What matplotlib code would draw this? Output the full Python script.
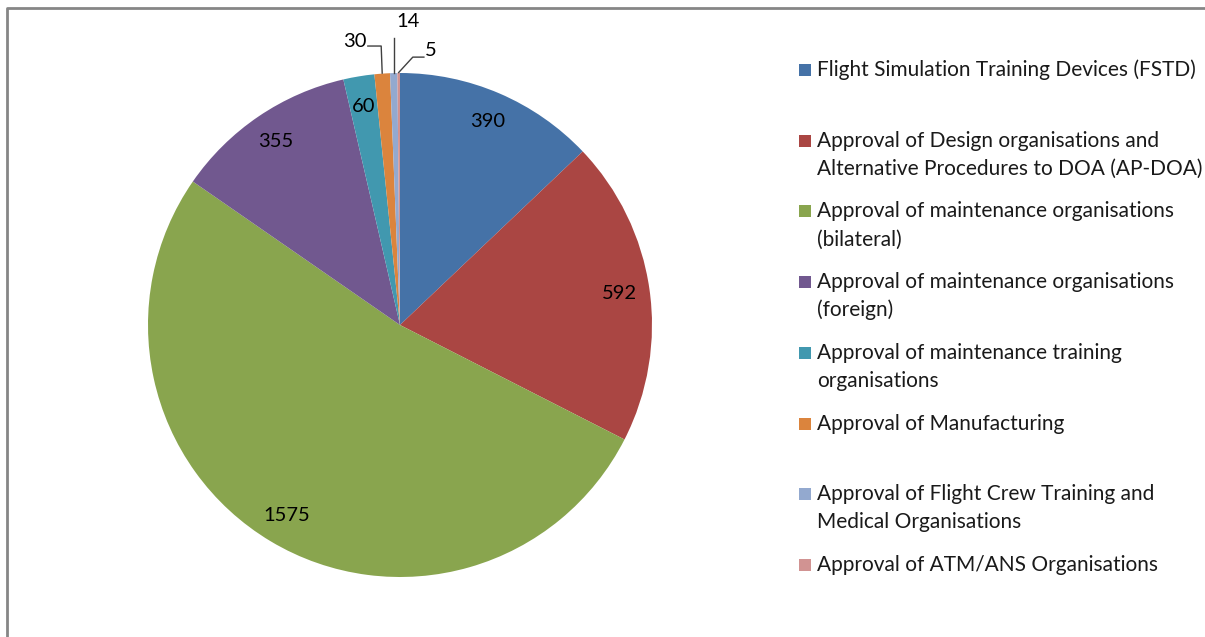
import numpy as np
import matplotlib.pyplot as plt
from matplotlib.patches import Rectangle
from matplotlib.lines import Line2D

plt.rcParams['font.family'] = ['Lato', 'DejaVu Sans']

categories = [
    "Flight Simulation Training Devices (FSTD)",
    "Approval of Design organisations and\nAlternative Procedures to DOA (AP-DOA)",
    "Approval of maintenance organisations\n(bilateral)",
    "Approval of maintenance organisations\n(foreign)",
    "Approval of maintenance training\norganisations",
    "Approval of Manufacturing",
    "Approval of Flight Crew Training and\nMedical Organisations",
    "Approval of ATM/ANS Organisations",
]
counts = [390, 592, 1575, 355, 60, 30, 14, 5]
colors = ["#4572A7", "#AA4643", "#89A54E", "#71588F",
          "#4198AF", "#DB843D", "#93A9CF", "#D19392"]

W, H = 1205, 637
fig = plt.figure(figsize=(W / 100, H / 100), dpi=100)

# pie centred at (400, 325) px, radius 252 px
R = 252
cx, cy = 400, H - 325
half = 320
ax = fig.add_axes([(cx - half) / W, (cy - half) / H, 2 * half / W, 2 * half / H])

wedges, _ = ax.pie(counts, colors=colors, startangle=90, counterclock=False,
                   radius=1.0, wedgeprops=dict(linewidth=0))
# pie() resets the limits, so set them afterwards
ax.set_xlim(-half / R, half / R)
ax.set_ylim(-half / R, half / R)
ax.set_aspect('equal')
ax.axis('off')

FS = 14.5

# values inside the larger slices
for w, v in zip(wedges, counts):
    mid = np.deg2rad((w.theta1 + w.theta2) / 2)
    if v >= 60:
        ax.text(0.88 * np.cos(mid), 0.88 * np.sin(mid), f"{v}",
                ha='center', va='center', fontsize=FS, color='black')

# leader lines for the thin slices near the top
def edge(w):
    mid = np.deg2rad((w.theta1 + w.theta2) / 2)
    return np.cos(mid), np.sin(mid)

lc = dict(color='#404040', linewidth=1.0)
# 30
x0, y0 = edge(wedges[5])
ax.plot([x0, x0 - 0.004, x0 - 0.057], [y0 + 0.002, 1.107, 1.107], **lc)
ax.text(x0 - 0.063, 1.125, f"{counts[5]}", ha='right', va='center',
        fontsize=FS, color='black')
# 14
x0, y0 = edge(wedges[6])
ax.plot([x0, x0], [y0 + 0.002, 1.139], **lc)
ax.text(x0 + 0.012, 1.205, f"{counts[6]}", ha='left', va='center',
        fontsize=FS, color='black')
# 5
x0, y0 = edge(wedges[7])
ax.plot([x0, x0 + 0.056, x0 + 0.1], [y0 + 0.002, 1.063, 1.063], **lc)
ax.text(x0 + 0.103, 1.09, f"{counts[7]}", ha='left', va='center',
        fontsize=FS, color='black')

# legend, one entry every ~70.7 px, lines 28 px apart
for i, (lab, col) in enumerate(zip(categories, colors)):
    yc = 70 + i * 70.7
    fig.add_artist(Rectangle((799 / W, (H - yc - 6) / H), 12 / W, 12 / H,
                             transform=fig.transFigure, facecolor=col,
                             edgecolor='none'))
    for k, line in enumerate(lab.split("\n")):
        fig.text(817 / W, (H - yc - 6 - 28 * k) / H, line, ha='left',
                 va='baseline', fontsize=15, color='#1a1a1a',
                 transform=fig.transFigure)

# chart frame (only left and top edges fall inside the image)
fig.add_artist(Line2D([7.5 / W, 7.5 / W, 1.01], [-0.01, (H - 7.5) / H, (H - 7.5) / H],
                      transform=fig.transFigure, color='#868686', linewidth=2))

fig.savefig("out.png", dpi=100)
